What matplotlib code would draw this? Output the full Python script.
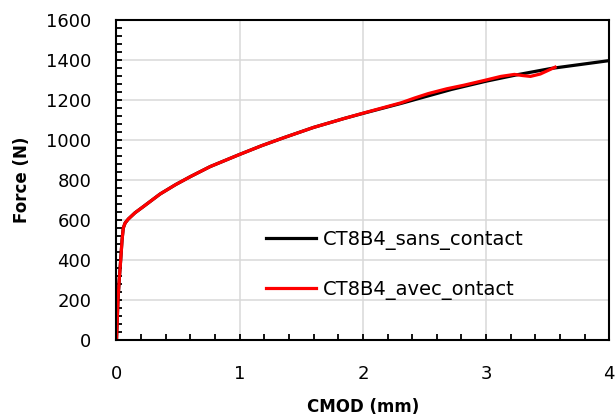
import numpy as np
import matplotlib.pyplot as plt
from matplotlib.ticker import MultipleLocator

# data
cmod_sans = [0, 0.006, 0.012, 0.022, 0.034, 0.045, 0.055, 0.07, 0.096, 0.15, 0.218,
             0.354, 0.48, 0.6, 0.76, 1.0, 1.18, 1.36, 1.6, 1.85, 2.0, 2.31, 2.72,
             3.0, 3.25, 3.53, 4.0]
force_sans = [0, 100, 200, 300, 400, 500, 560, 585, 605, 636, 667,
              730, 777, 817, 867, 928, 972, 1012, 1063, 1108, 1133, 1183, 1253,
              1294, 1326, 1358, 1397]

cmod_avec = [0, 0.006, 0.012, 0.022, 0.034, 0.045, 0.055, 0.07, 0.096, 0.15, 0.218,
             0.354, 0.48, 0.6, 0.76, 1.0, 1.18, 1.36, 1.6, 1.85, 2.0, 2.31, 2.42,
             2.53, 2.68, 2.82, 3.0, 3.12, 3.23, 3.3, 3.36, 3.44, 3.5, 3.56]
force_avec = [0, 100, 200, 300, 400, 500, 560, 585, 605, 636, 667,
              730, 777, 817, 867, 928, 972, 1012, 1063, 1108, 1134, 1186, 1210,
              1232, 1256, 1274, 1300, 1318, 1328, 1322, 1318, 1330, 1347, 1364]

labels = ['CT8B4_sans_contact', 'CT8B4_avec_ontact']

plt.rcParams['font.family'] = ['DejaVu Sans']

fig = plt.figure(figsize=(6.16, 4.19), dpi=100)
ax = fig.add_axes([116.5/616, 1 - 340/419, (609.3-116.5)/616, (340-20)/419])

ax.plot(cmod_sans, force_sans, color='black', lw=2.3, label=labels[0])
ax.plot(cmod_avec, force_avec, color='#ff0000', lw=2.3, label=labels[1])

ax.set_xlim(0, 4)
ax.set_ylim(0, 1600)
ax.xaxis.set_major_locator(MultipleLocator(1))
ax.xaxis.set_minor_locator(MultipleLocator(0.2))
ax.yaxis.set_major_locator(MultipleLocator(200))
ax.yaxis.set_minor_locator(MultipleLocator(40))
ax.grid(True, which='major', color='#d9d9d9', lw=1.1)
ax.set_axisbelow(True)
ax.tick_params(which='both', direction='in', length=4, width=1.3, colors='black',
               labelsize=13)
ax.tick_params(axis='x', which='both', pad=18)
ax.tick_params(axis='y', which='both', pad=18)
for s in ax.spines.values():
    s.set_linewidth(1.5)
    s.set_color('black')

ax.set_xlabel('CMOD (mm)', fontsize=12, fontweight='bold', labelpad=10.5)
ax.set_ylabel('Force (N)', fontsize=12, fontweight='bold', labelpad=11)

ax.legend(frameon=False, fontsize=14, loc='upper left',
          bbox_to_anchor=(258/616, 1 - 222/419), bbox_transform=fig.transFigure,
          handlelength=2.6, handletextpad=0.35, labelspacing=1.55, borderaxespad=0)

fig.savefig('out.png', dpi=100)
